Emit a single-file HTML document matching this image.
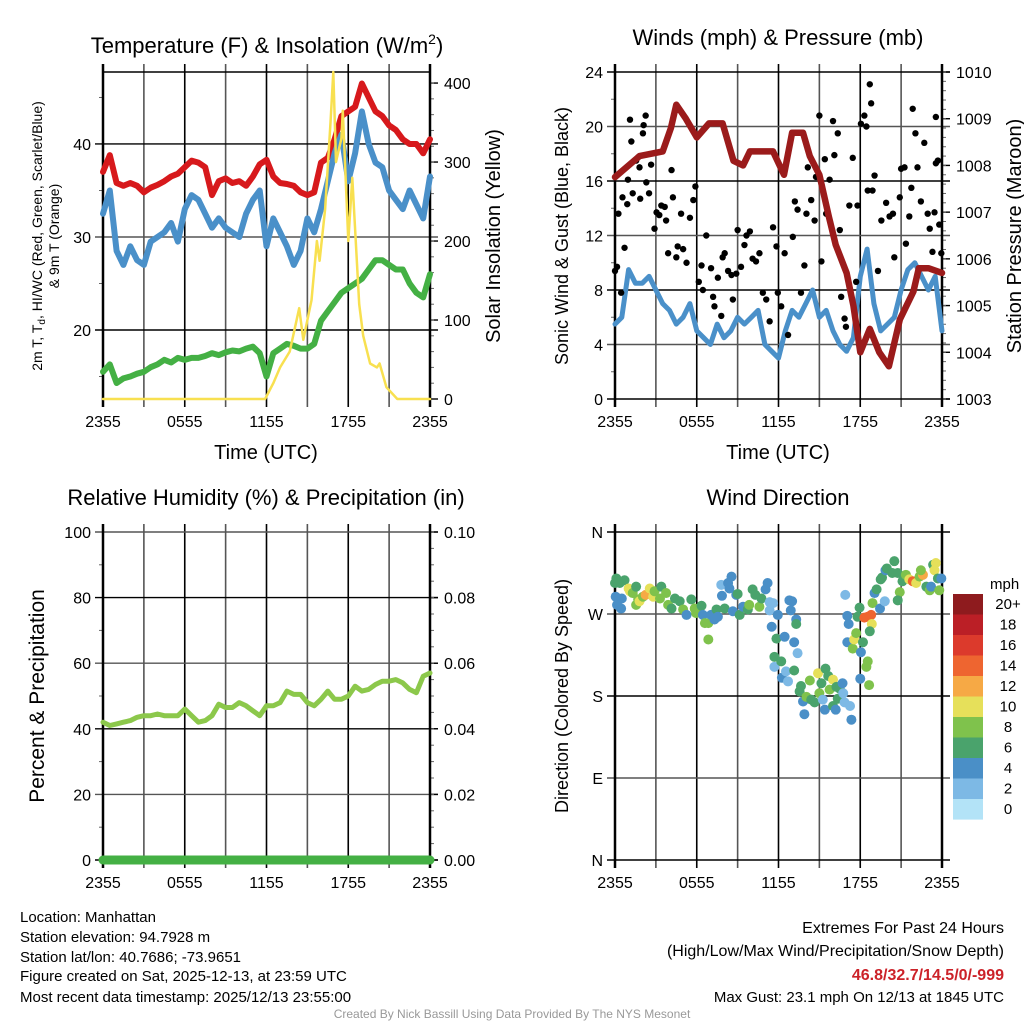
<!DOCTYPE html>
<html><head><meta charset="utf-8"><style>
body{margin:0;background:#fff;}
svg{display:block;font-family:"Liberation Sans",sans-serif;}
</style></head><body>
<svg id="c" width="1024" height="1024" viewBox="0 0 1024 1024" xmlns="http://www.w3.org/2000/svg">
<g id="g"></g>
<text x="267" y="53" font-size="22" text-anchor="middle">Temperature (F) &amp; Insolation (W/m<tspan dy="-9" font-size="14">2</tspan><tspan dy="9">)</tspan></text>
<text x="778" y="45" font-size="22" text-anchor="middle">Winds (mph) &amp; Pressure (mb)</text>
<text x="266" y="505" font-size="22" text-anchor="middle">Relative Humidity (%) &amp; Precipitation (in)</text>
<text x="778" y="505" font-size="22" text-anchor="middle">Wind Direction</text>
<g font-size="15">
<text x="20" y="922">Location: Manhattan</text>
<text x="20" y="942">Station elevation: 94.7928 m</text>
<text x="20" y="962">Station lat/lon: 40.7686; -73.9651</text>
<text x="20" y="981">Figure created on Sat, 2025-12-13, at 23:59 UTC</text>
<text x="20" y="1002">Most recent data timestamp: 2025/12/13 23:55:00</text>
</g>
<g font-size="16" text-anchor="end">
<text x="1004" y="933">Extremes For Past 24 Hours</text>
<text x="1004" y="956">(High/Low/Max Wind/Precipitation/Snow Depth)</text>
<text x="1004" y="980" fill="#cc2229" font-weight="bold">46.8/32.7/14.5/0/-999</text>
<text x="1004" y="1002" font-size="15">Max Gust: 23.1 mph On 12/13 at 1845 UTC</text>
</g>
<text x="512" y="1018" font-size="12" fill="#999" text-anchor="middle">Created By Nick Bassill Using Data Provided By The NYS Mesonet</text>
</svg>
<script>
// ---- data ----
const tickLabels=["2355","0555","1155","1755","2355"];
const redT=[37,38.8,35.8,35.5,35.8,35.5,34.8,35.3,35.6,36,36.5,36.8,37.5,38.2,38,37.5,34.5,36,36.3,35.8,36,35.5,36.5,37.8,38.3,36.5,35.8,35.7,35.5,34.8,34.5,34.8,38,38.5,40.5,43,43.5,44,46.5,45,43.5,43,42,41.5,40.5,40,40,39,40.5];
const blueT=[32.5,35,28.5,27,29,27.5,27,29.5,30,30.5,31.5,29.5,33,34.5,34,32.5,31,32,31,30.5,30,32.5,34,35,29,32,30.5,29,27,28.5,32,30.5,33,36,39,41,36,39,43.5,40,38,37.5,35,34,33,35,33.5,32,36.5];
const greenT=[15.5,16.3,14.3,14.8,15,15.3,15.5,16,16.3,16.8,16.5,17,16.8,17,17,17.2,17.5,17.3,17.6,17.8,17.7,18,18.2,17.5,15,17.5,18,18.5,18.3,18,18,18.5,21,22,23,24,24.5,25,25.5,26.5,27.5,27.5,27,26.5,26.5,25,24,23.5,26];
const solarH=[0,11.9,12.5,13,13.7,14.4,14.7,15.3,15.7,15.9,16.3,16.7,16.9,17.1,17.5,17.6,18,18.3,18.8,19.1,19.6,20.1,20.3,20.8,21.6,24];
const solarV=[0,0,20,40,60,115,75,125,200,175,240,350,414,300,330,365,200,280,120,80,45,40,45,15,0,0];
const windV=[5.5,6,9.5,8.5,8.5,9,8,7,6.5,5.5,6,7,5,4.5,4,5.5,4.5,5,6,5.5,6,6.5,4,3.5,3,5,6.5,6,7,8,6,6.5,5,4,3.5,4.5,9,11,7,5,5.5,6,8,9.5,10,9,8,9,5];
const presH=[0,1.8,3.5,4.1,4.5,5.2,6,6.9,7.9,8.7,9.4,9.9,11.6,12.4,13,13.8,14.3,15,15.7,16.2,17,17.5,18,18.7,19.4,20.1,20.9,21.9,22.3,23,24];
const presV=[1007.75,1008.2,1008.3,1008.8,1009.3,1009.0,1008.6,1008.9,1008.9,1008.1,1008,1008.3,1008.3,1007.8,1008.7,1008.7,1008.2,1007.8,1006.9,1006.3,1005.7,1005,1004,1004.5,1004,1003.7,1004.7,1005.3,1005.8,1005.8,1005.7];
const gustH=[0,0.15,0.45,0.7,0.25,0.55,0.9,0.95,1.1,1.2,1.3,1.55,1.8,1.85,2.05,2.1,2.25,2.3,2.5,2.65,2.9,3.05,3.25,3.4,3.65,3.75,3.9,4.15,4.25,4.5,4.6,4.85,5,5.25,5.5,5.75,5.9,6.15,6.35,6.45,6.7,7.05,7.2,7.3,7.55,7.8,7.9,8.05,8.3,8.55,8.65,8.9,9,9.25,9.5,9.65,9.9,10.1,10.35,10.6,10.85,11.1,11.35,11.6,11.85,11.95,12.2,12.45,12.7,13.05,13.2,13.4,13.65,13.9,14.05,14.15,14.4,14.65,14.75,15,15.15,15.4,15.5,15.75,16,16.1,16.35,16.5,16.6,16.85,16.95,17.2,17.45,17.7,17.8,18.05,18.3,18.45,18.55,18.7,18.8,18.9,19.05,19.3,19.55,19.9,20.15,20.4,20.5,20.9,21,21.25,21.35,21.6,21.75,21.85,22.05,22.2,22.45,22.7,22.95,23.1,23.3,23.45,23.55,23.55,23.7,23.8,23.95];
const gustV=[9.4,9.7,7.8,11.1,13.6,14.8,14.3,16.1,20.5,18.9,15.1,17.5,17,14.7,19.5,20.1,20.8,15.9,15.1,17.2,12.5,13.7,13.5,14.2,14.1,13.1,10.7,16.8,14.8,10.4,11.2,13.6,11,10,13.3,14.6,15.6,8.6,9.8,8,12,9.6,7.5,6.8,8.9,6.1,10.4,10.7,9.4,9.1,7.3,9.2,12.4,9.7,11.3,12,12.3,10.3,10.1,10.7,7.8,7.3,5.7,12.6,11.2,7.8,6.8,10.7,4.7,11.9,14.5,13.9,7.8,9.8,13.6,17,14.6,13.1,16.3,20.8,10.1,17.6,13.6,16.1,20.4,17.9,19.5,12.4,7.5,5.9,5.3,14.2,17.7,8.6,14.2,20.2,20.8,20,15.3,23.1,21.7,15.3,16.4,9.4,13.1,14.4,13.4,13.6,10.4,14.8,16.9,17,11.4,13.4,15.5,21.3,19.5,17,14.5,18.8,13.6,12.5,10.8,13.7,17.3,20.7,17.5,12.8,10.7];
const rhV=[42,41,41.5,42,42.5,43.5,44,44,44.5,44,44,44,46,44,42,42.5,44,47.5,46.5,46.5,48,47,45.5,44,47,47,48,51.5,50.5,50.5,48,47,49,51.5,49,49,50,53,51.5,52,53.5,54.5,54.5,55,54,52,51,56,57];
const dirH=[0,0.1,0.05,0.15,0.45,0.5,0.35,0.7,1,1.1,1.3,1.55,1.7,1.55,1.8,2.05,2.25,2.55,2.8,2.9,3.3,3.4,3.75,3.9,4.15,4.4,4.75,5,5.25,5.6,5.85,5.95,6.35,6.45,6.6,6.85,6.85,7.05,7.3,7.45,7.55,7.8,7.85,8.05,8.3,8.4,8.55,8.65,8.9,9,9.15,9.4,9.75,9.85,10.1,10.3,10.6,10.75,11.05,11.2,11.35,11.6,11.35,11.5,11.95,11.85,11.7,11.7,12.2,12.25,12.45,12.55,12.7,12.8,13,12.9,13.15,13.3,13.3,13.4,13.15,13.55,13.65,13.8,13.9,14.05,14.3,14.4,14.65,14.9,15,15.15,15.25,15.4,15.45,15.65,15.75,16,16,16.2,16.25,16.35,16.5,16.7,16.75,16.85,17.25,17.35,16.9,17.05,17.15,17.05,17.45,17.55,17.7,17.8,17.95,18.05,18.2,18,18.3,18.55,18.8,18.85,18.7,18.55,18.45,18.65,18.9,19.05,19.2,19.45,19.8,19.5,19.6,19.85,19.95,20.35,20.5,20.75,20.9,20.75,21.1,21.35,21.6,21.85,22.1,22.35,22.6,22.45,22.85,23.1,23.2,23.35,23.45,23.55,23.7,23.8,23.95];
const dirD=[304,309,289,280,276,287,304,307,298,295,293,280,286,300,284,289,291,298,289,295,287,300,293,280,276,287,284,275,269,286,276,271,279,269,260,260,242,269,264,275,267,302,290,276,304,298,311,273,291,292,269,278,275,280,297,291,278,287,297,304,283,282,274,256,269,243,223,212,218,200,245,207,196,285,284,274,239,264,259,227,208,185,191,174,160,179,197,176,173,205,183,194,176,165,210,202,187,198,169,165,190,177,188,194,183,173,169,154,291,268,259,239,232,242,249,267,277,228,239,199,266,267,269,259,251,218,212,192,282,293,297,276,284,308,310,318,320,315,328,315,294,285,306,313,308,306,304,311,313,318,300,296,300,324,318,326,309,296,309];
const dirS=[6,6,4,4,4,4,6,6,10,10,8,8,8,6,10,8,12,10,10,8,8,6,8,8,6,6,6,8,4,6,8,8,6,4,8,8,8,4,4,6,4,2,4,6,4,4,4,4,4,6,6,4,6,8,6,6,8,6,4,4,2,2,2,4,4,6,6,2,6,4,4,2,2,4,4,4,4,4,6,2,6,6,6,4,4,8,8,6,6,10,8,6,2,4,6,6,8,10,6,4,6,6,6,4,2,2,2,4,2,4,4,4,8,10,8,6,6,4,6,4,14,14,14,10,6,8,8,8,8,4,6,4,2,6,6,4,6,6,6,6,8,6,6,8,10,14,10,8,12,8,6,8,4,6,10,10,6,8,4];
const precipV=[0,0];
const cbLabels=["20+","18","16","14","12","10","8","6","4","2","0"];
const cbColors=["#8e1b1e","#bb1f26","#dc3a2c","#ee6530","#f6a945","#e6e05a","#7fc24c","#4aa36c","#4a8fc7","#7db9e5","#b3e3f7"];
// ---- drawing ----
const NS="http://www.w3.org/2000/svg";
const G=document.getElementById('g');
function el(t,a,p){const e=document.createElementNS(NS,t);for(const k in a)e.setAttribute(k,a[k]);(p||G).appendChild(e);return e;}
function txt(s,a,p){const e=el('text',a,p);e.textContent=s;return e;}
function panel(P){
 const g=el('g',{});
 
 
 P.g=g;
 P.sx=h=>P.x0+(P.x1-P.x0)*h/24;
 P.sy=v=>P.yb-(v-P.lmin)/(P.lmax-P.lmin)*(P.yb-P.yt);
 P.sr=v=>P.yb-(v-P.rmin)/(P.rmax-P.rmin)*(P.yb-P.yt);
 for(let i=0;i<=8;i++){const x=P.sx(i*3);
  const l=el('line',{x1:x,x2:x,y1:P.yt-8,y2:P.yb+8,stroke:i%2?'#555':'#000','stroke-width':1.6},g);
  
  }
 P.lt.forEach((v,i)=>{const y=P.sy(v);
  const l=el('line',{x1:P.x0-8,x2:P.x1+8,y1:y,y2:y,stroke:i%2?'#555':'#000','stroke-width':1.4},g);
  
  
  const t=txt(P.ll[i],{x:P.x0-12,y:y+6,'font-size':16,'text-anchor':'end'},g);
  
  });
 P.lminor.forEach(v=>{const y=P.sy(v);el('line',{x1:P.x0-4,x2:P.x0,y1:y,y2:y,stroke:'#666','stroke-width':1},g);});
 P.rt.forEach((v,i)=>{const y=P.sr(v);
  el('line',{x1:P.x1,x2:P.x1+8,y1:y,y2:y,stroke:'#000','stroke-width':1.4},g);
  const t=txt(P.rl[i],{x:P.x1+14,y:y+6,'font-size':16},g);
  
  });
 P.rminor.forEach(v=>{const y=P.sr(v);el('line',{x1:P.x1,x2:P.x1+4,y1:y,y2:y,stroke:'#666','stroke-width':1},g);});
 el('line',{x1:P.x0,x2:P.x0,y1:P.yt-8,y2:P.yb+8,stroke:'#000','stroke-width':2.5},g);
 el('line',{x1:P.x1,x2:P.x1,y1:P.yt-8,y2:P.yb+8,stroke:'#000','stroke-width':2.5},g);
 tickLabels.forEach((s,i)=>{const t=txt(s,{x:P.sx(i*6),y:P.yb+28,'font-size':16,'text-anchor':'middle'},g);
  
  });
 return P;}
function line(P,hs,vs,sc,color,w,name){
 const d=vs.map((v,i)=>(i?'L':'M')+P.sx(hs?hs[i]:i*24/(vs.length-1)).toFixed(1)+','+sc(v).toFixed(1)).join('');
 const p=el('path',{d:d,fill:'none',stroke:color,'stroke-width':w,'stroke-linejoin':'round','stroke-linecap':'round'},P.g);
 
 }
function rng(a,b,s){const r=[];for(let v=a;v<=b+1e-9;v+=s)r.push(+v.toFixed(4));return r;}
// Panel 1
const P1=panel({name:'temperature-panel',x0:103,x1:430,yt:72,yb:399,lmin:12.58,lmax:47.74,rmin:0,rmax:414,
 lt:[20,30,40],ll:['20','30','40'],lminor:[15,25,35,45],rt:[0,100,200,300,400],rl:['0','100','200','300','400'],rminor:rng(20,400,20)});
el('line',{x1:103,x2:430,y1:72,y2:72,stroke:'#000','stroke-width':1.4},P1.g);
line(P1,null,redT,P1.sy,'#d7191c',6,'temperature-line-red');
line(P1,null,blueT,P1.sy,'#4a90c9',6,'heat-index-line-blue');
line(P1,null,greenT,P1.sy,'#44b044',6,'dewpoint-line-green');
line(P1,solarH,solarV,P1.sr,'#f8e050',2.5,'solar-insolation-line');
// Panel 2
const P2=panel({name:'wind-pressure-panel',x0:615,x1:942,yt:72,yb:399,lmin:0,lmax:24,rmin:1003,rmax:1010,
 lt:[0,4,8,12,16,20,24],ll:['0','4','8','12','16','20','24'],lminor:[2,6,10,14,18,22],rt:rng(1003,1010,1),rl:['1003','1004','1005','1006','1007','1008','1009','1010'],rminor:rng(1003,1010,0.2)});
line(P2,null,windV,P2.sy,'#4a90c9',5,'sonic-wind-line');
gustH.forEach((h,i)=>{const c=el('circle',{cx:P2.sx(h),cy:P2.sy(gustV[i]),r:3.2,fill:'#000'},P2.g);
 
 });
line(P2,presH,presV,P2.sr,'#9b1b1b',6.5,'station-pressure-line');
// Panel 3
const P3=panel({name:'humidity-panel',x0:103,x1:430,yt:532,yb:860,lmin:0,lmax:100,rmin:0,rmax:0.1,
 lt:[0,20,40,60,80,100],ll:['0','20','40','60','80','100'],lminor:[10,30,50,70,90],rt:rng(0,0.1,0.02),rl:['0.00','0.02','0.04','0.06','0.08','0.10'],rminor:rng(0,0.1,0.005)});
line(P3,null,rhV,P3.sy,'#8cc84b',5,'relative-humidity-line');
line(P3,null,precipV,P3.sr,'#44b044',9,'precipitation-line');
// Panel 4
const P4=panel({name:'wind-direction-panel',x0:615,x1:942,yt:532,yb:860,lmin:0,lmax:360,rmin:0,rmax:360,
 lt:[0,90,180,270,360],ll:['N','E','S','W','N'],lminor:[],rt:[],rl:[],rminor:[]});
dirH.forEach((h,i)=>{const c=el('circle',{cx:P4.sx(h),cy:P4.sy(dirD[i]),r:5,fill:cbColors[10-Math.min(10,Math.round(dirS[i]/2))]},P4.g);
 
 });
const cb=el('g',{});


txt('mph',{x:990,y:589,'font-size':15},cb);
cbColors.forEach((c,i)=>{el('rect',{x:953,y:594+i*20.5,width:30,height:20.6,fill:c},cb);
 txt(cbLabels[i],{x:1008,y:609+i*20.5,'font-size':15,'text-anchor':'middle'},cb);});
// axis titles
function vt(s,x,y,fs,name){const t=txt(s,{x:0,y:0,'font-size':fs,'text-anchor':'middle',transform:`translate(${x},${y}) rotate(-90)`});
 
 return t;}
const a1=vt('',42,236,14,'temperature-y-axis-title');
a1.innerHTML='2m T, T<tspan dy="3" font-size="10">d</tspan><tspan dy="-3">, HI/WC (Red, Green, Scarlet/Blue)</tspan>';
vt('& 9m T (Orange)',59,236,14,'temperature-y-axis-title-2');
vt('Solar Insolation (Yellow)',500,236,20,'solar-y-axis-title');
vt('Sonic Wind & Gust (Blue, Black)',568,236,18,'wind-y-axis-title');
vt('Station Pressure (Maroon)',1021,236,20,'pressure-y-axis-title');
vt('Percent & Precipitation',44,696,21,'humidity-y-axis-title');
vt('Direction (Colored By Speed)',568,696,18,'direction-y-axis-title');
[[266,'time-axis-title-1'],[778,'time-axis-title-2']].forEach(([x,n])=>{const t=txt('Time (UTC)',{x:x,y:459,'font-size':20,'text-anchor':'middle'});
 
 });
</script>
</body></html>
